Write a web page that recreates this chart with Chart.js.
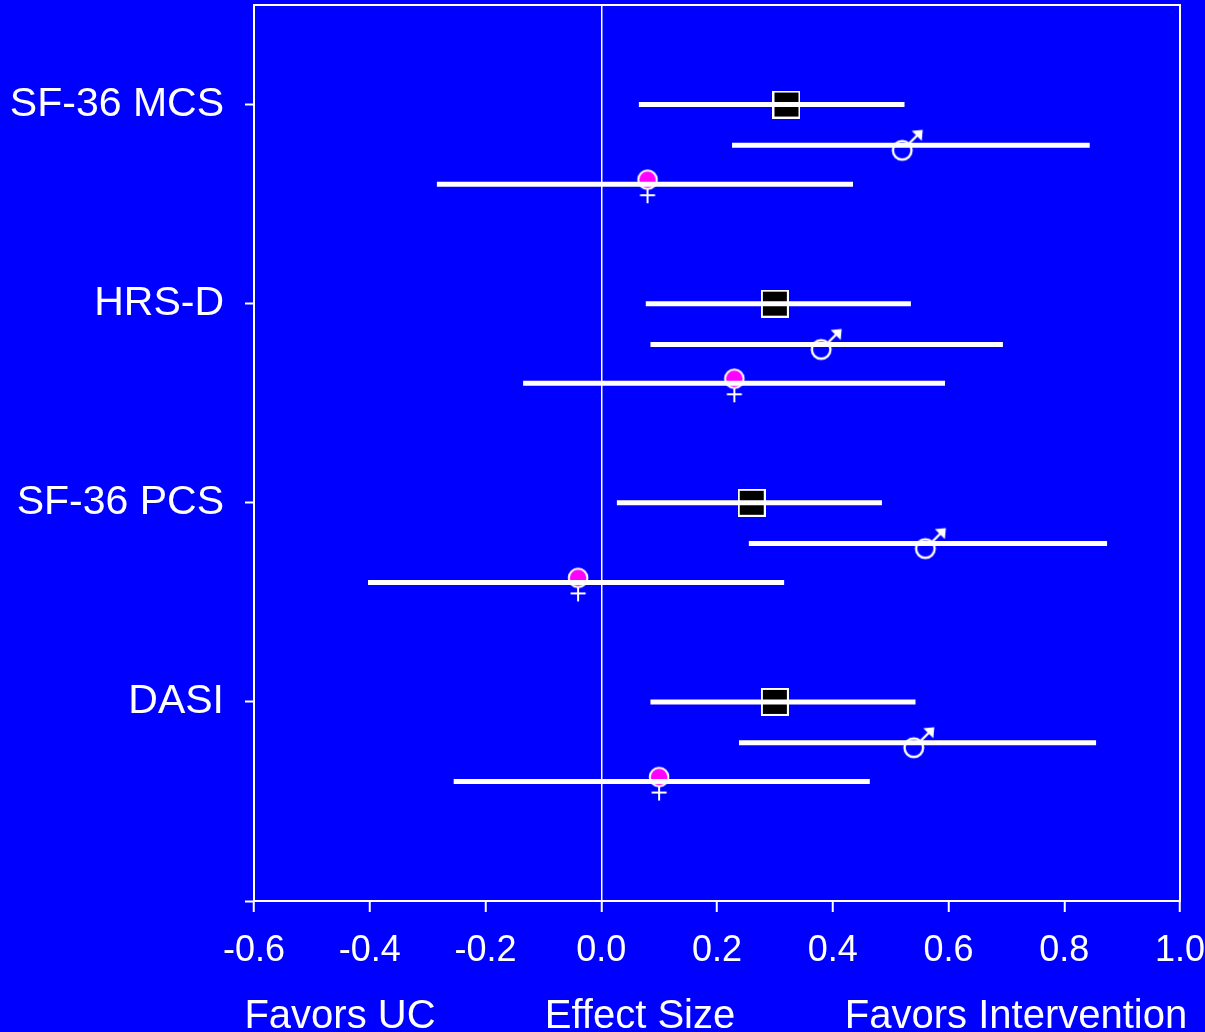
<!DOCTYPE html>
<html>
<head>
<meta charset="utf-8">
<script src="https://cdn.jsdelivr.net/npm/chart.js@4/dist/chart.umd.min.js"></script>
<style>
  html, body { margin: 0; padding: 0; background: #0000ff; }
  #wrap { width: 1205px; height: 1032px; position: relative; }
</style>
</head>
<body>
<div id="wrap"><canvas id="forest"></canvas></div>
<script>
// outcome rows, top to bottom (y position on the value axis)
const categories = ["SF-36 MCS", "HRS-D", "SF-36 PCS", "DASI"];
const rowY = [4, 3, 2, 1];

// overall effect size with 95% CI
const overallEst = [0.32, 0.30, 0.26, 0.30];
const overallLo = [0.065, 0.077, 0.027, 0.085];
const overallHi = [0.524, 0.535, 0.485, 0.543];

// men
const maleEst = [0.52, 0.38, 0.56, 0.54];
const maleLo = [0.226, 0.085, 0.255, 0.238];
const maleHi = [0.844, 0.694, 0.874, 0.855];

// women
const femaleEst = [0.08, 0.23, -0.04, 0.10];
const femaleLo = [-0.284, -0.135, -0.403, -0.255];
const femaleHi = [0.435, 0.594, 0.316, 0.464];

const xTicks = [-0.6, -0.4, -0.2, 0.0, 0.2, 0.4, 0.6, 0.8, 1.0];
const yTicks = [0, 1, 2, 3, 4];
const bottomLabels = ["Favors UC", "Effect Size", "Favors Intervention"];

const WHITE = "#ffffff";
const BLUE = "#0000ff";
const FONT = "'Liberation Sans', Arial, sans-serif";

// sub-row offsets within a category
const offOverall = 0, offMale = -0.205, offFemale = -0.4;

// marker images
function squareMarker() {
    const c = document.createElement("canvas");
    c.width = 28; c.height = 28;
    const g = c.getContext("2d");
    g.fillStyle = "#000";
    g.fillRect(1, 1, 26, 26);
    g.strokeStyle = WHITE;
    g.lineWidth = 2;
    g.strokeRect(1, 1, 26, 26);
    return c;
}

function femaleMarker() {
    const c = document.createElement("canvas");
    c.width = 24; c.height = 44;
    const g = c.getContext("2d");
    g.strokeStyle = WHITE;
    g.lineWidth = 2;
    g.beginPath();
    g.arc(12, 17.5, 9.3, 0, Math.PI * 2);
    g.fillStyle = "#ff00ff";
    g.fill();
    g.stroke();
    g.beginPath();
    g.moveTo(12, 26.5); g.lineTo(12, 41);
    g.moveTo(4.5, 33); g.lineTo(19.5, 33);
    g.stroke();
    return c;
}

function maleMarker() {
    const c = document.createElement("canvas");
    c.width = 52; c.height = 52;
    const g = c.getContext("2d");
    g.strokeStyle = WHITE;
    g.fillStyle = WHITE;
    g.lineWidth = 2.4;
    g.beginPath();
    g.arc(26, 31, 9.3, 0, Math.PI * 2);
    g.stroke();
    g.beginPath();
    g.moveTo(32.5, 24.5); g.lineTo(42, 15);
    g.stroke();
    g.beginPath();
    g.moveTo(46.5, 10.5); g.lineTo(35.5, 11.5); g.lineTo(45.5, 21.5);
    g.closePath();
    g.fill();
    return c;
}

const datasets = [];

// CI bars (drawn on top of markers)
function addBars(lo, hi, off) {
    for (let i = 0; i < categories.length; i++) {
        datasets.push({
            type: "line",
            data: [{ x: lo[i], y: rowY[i] + off }, { x: hi[i], y: rowY[i] + off }],
            borderColor: WHITE,
            borderWidth: 5,
            borderCapStyle: "butt",
            pointRadius: 0,
            showLine: true,
            order: 0,
        });
    }
}
addBars(overallLo, overallHi, offOverall);
addBars(maleLo, maleHi, offMale);
addBars(femaleLo, femaleHi, offFemale);

function addPoints(est, off, img) {
    datasets.push({
        type: "scatter",
        data: est.map((v, i) => ({ x: v, y: rowY[i] + off })),
        pointStyle: img,
        pointRadius: 10,
        order: 1,
    });
}
addPoints(overallEst, offOverall, squareMarker());
addPoints(maleEst, offMale, maleMarker());
addPoints(femaleEst, offFemale, femaleMarker());

const framePlugin = {
    id: "frame",
    beforeDraw(chart) {
        const ctx = chart.ctx;
        ctx.save();
        ctx.fillStyle = BLUE;
        ctx.fillRect(0, 0, chart.width, chart.height);
        ctx.restore();
    },
    afterDraw(chart) {
        const { ctx, chartArea: a } = chart;
        ctx.save();
        ctx.strokeStyle = WHITE;
        ctx.lineWidth = 2;
        ctx.strokeRect(a.left, a.top, a.right - a.left, a.bottom - a.top);
        // axis footer labels
        ctx.fillStyle = WHITE;
        ctx.font = "40px " + FONT;
        ctx.textAlign = "center";
        ctx.textBaseline = "alphabetic";
        const cx = [340, 640, 1016];
        bottomLabels.forEach((t, i) => ctx.fillText(t, cx[i], 1028));
        ctx.restore();
    },
};

new Chart(document.getElementById("forest"), {
    type: "scatter",
    data: { datasets },
    options: {
        responsive: true,
        maintainAspectRatio: false,
        animation: false,
        layout: { autoPadding: false, padding: { top: 5, right: 25, left: 0, bottom: 0 } },
        plugins: { legend: { display: false }, tooltip: { enabled: false } },
        scales: {
            x: {
                type: "linear",
                min: -0.6,
                max: 1.0,
                afterBuildTicks: (s) => { s.ticks = xTicks.map((v) => ({ value: v })); },
                afterFit: (s) => { s.height = 131; s.paddingLeft = 0; s.paddingRight = 0; },
                ticks: {
                    color: WHITE,
                    font: { family: FONT, size: 36 },
                    padding: 17,
                    maxRotation: 0,
                    autoSkip: false,
                    callback: (v) => Number(v).toFixed(1),
                },
                grid: {
                    color: (c) => (c.tick && Math.abs(c.tick.value) < 1e-9 ? WHITE : "transparent"),
                    lineWidth: 1.5,
                    tickColor: WHITE,
                    tickLength: 11,
                    tickWidth: 2,
                },
                border: { display: true, color: WHITE, width: 2 },
            },
            y: {
                type: "linear",
                min: 0,
                max: 4.5,
                afterBuildTicks: (s) => { s.ticks = yTicks.map((v) => ({ value: v })); },
                afterFit: (s) => { s.width = 254; s.paddingTop = 0; s.paddingBottom = 0; },
                ticks: {
                    color: WHITE,
                    font: { family: FONT, size: 41 },
                    padding: 21,
                    callback: (v) => {
                        const i = rowY.indexOf(v);
                        return i >= 0 ? categories[i] : "";
                    },
                },
                grid: {
                    drawOnChartArea: false,
                    color: WHITE,
                    tickColor: WHITE,
                    tickLength: 9,
                    tickWidth: 2,
                },
                border: { display: true, color: WHITE, width: 2 },
            },
        },
    },
    plugins: [framePlugin],
});
</script>
</body>
</html>
